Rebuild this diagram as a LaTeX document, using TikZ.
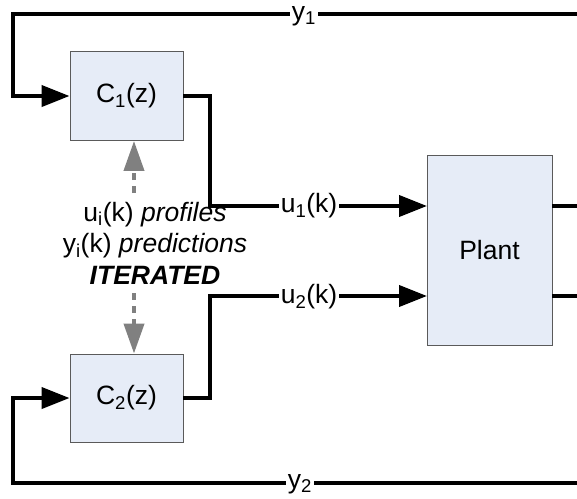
\documentclass[tikz,border=0pt]{standalone}
\usepackage{fontspec}
\setmainfont{Liberation Sans}
\usetikzlibrary{arrows.meta}
\definecolor{boxfill}{HTML}{E6ECF7}
\definecolor{boxline}{HTML}{5A5A5A}
\definecolor{darrow}{HTML}{808080}
\begin{document}
\begin{tikzpicture}[x=1pt,y=-1pt,
  blockbox/.style={draw=boxline,line width=0.9pt,fill=boxfill,inner sep=0pt,font=\fontsize{26.5}{31}\selectfont},
  sig/.style={line width=4pt,line join=miter},
  sigarrow/.style={sig,-{Triangle[length=28pt,width=21pt]}},
  lab/.style={fill=white,inner xsep=1.5pt,inner ysep=0pt,font=\fontsize{26.5}{31}\selectfont},
  iter/.style={line width=4pt,draw=darrow,dash pattern=on 7pt off 6pt,-{Triangle[length=30pt,width=20pt]}}]
\useasboundingbox (0,0) rectangle (577,498);
% blocks
\node[blockbox,minimum width=113pt,minimum height=89pt] (C1) at (126.5,96) {C\textsubscript{1}(z)};
\node[blockbox,minimum width=113pt,minimum height=88pt] (C2) at (126.5,398) {C\textsubscript{2}(z)};
\node[blockbox,minimum width=125pt,minimum height=190pt] (P) at (489.5,250) {Plant};
% coordinates
\coordinate (u1in) at (427,206);
\coordinate (u2in) at (427,296);
\coordinate (y1out) at (577,206);
\coordinate (y2out) at (577,296);
\coordinate (y1top) at (577,14);
\coordinate (y2bot) at (577,483);
\coordinate (gtop) at (134,193);
\coordinate (gbot) at (134,293);
% controls to plant
\draw[sigarrow] (C1.east) -- (210,96) |- (u1in);
\draw[sigarrow] (C2.east) -- (210,398) |- (u2in);
% plant outputs
\draw[sig] (P.east |- y1out) -- (y1out);
\draw[sig] (P.east |- y2out) -- (y2out);
% feedback lines
\draw[sigarrow] (y1top) -- (13,14) |- (C1.west);
\draw[sigarrow] (y2bot) -- (13,483) |- (C2.west);
% labels on lines
\node[lab] (ly1) at (304,16) {y\textsubscript{1}};
\node[lab] (ly2) at (300,484) {y\textsubscript{2}};
\node[lab] (lu1) at (309,206) {u\textsubscript{1}(k)};
\node[lab] (lu2) at (309,297) {u\textsubscript{2}(k)};
% iteration arrows
\draw[iter] (gtop) -- (gtop |- C1.south);
\draw[iter] (gbot) -- (gbot |- C2.north);
\node[align=center,font=\fontsize{26.5}{31.5}\selectfont] (txt) at (155,243)
  {u\textsubscript{i}(k) \textit{profiles}\\ y\textsubscript{i}(k) \textit{predictions}\\ \textbf{\textit{ITERATED}}};
\end{tikzpicture}
\end{document}
